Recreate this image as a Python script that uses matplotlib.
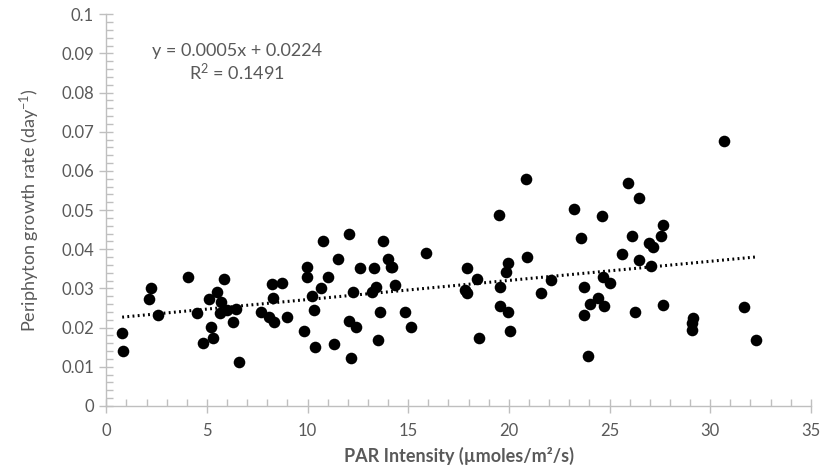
import numpy as np
import matplotlib.pyplot as plt
from matplotlib.ticker import MultipleLocator

# PAR intensity (x) and periphyton growth rate (y)
par = [0.79, 0.84, 2.1, 2.2, 2.57, 4.07, 4.5, 4.8, 5.09, 5.2,
       5.3, 5.51, 5.72, 5.67, 5.85, 5.98, 6.46, 6.27, 6.6, 7.67,
       8.1, 8.24, 8.3, 8.35, 8.74, 8.98, 9.82, 9.97, 9.97, 10.2,
       10.3, 10.37, 10.68, 10.79, 11.0, 11.3, 11.5, 12.07, 12.07, 12.15,
       12.28, 12.4, 12.62, 13.2, 13.28, 13.41, 13.49, 13.62, 13.73, 14.0,
       14.12, 14.2, 14.33, 14.83, 15.12, 15.9, 17.8, 17.93, 17.93, 18.4,
       18.53, 19.5, 19.58, 19.58, 19.84, 19.95, 19.95, 20.08, 20.87, 20.92,
       21.58, 22.07, 23.25, 23.57, 23.73, 23.73, 23.94, 24.04, 24.41, 24.62,
       24.67, 24.75, 25.04, 25.62, 25.93, 26.12, 26.27, 26.46, 26.46, 26.98,
       27.14, 27.04, 27.56, 27.67, 27.64, 29.08, 29.13, 29.11, 30.7, 31.7,
       32.3]
growth = [0.0185, 0.0139, 0.0273, 0.0302, 0.0232, 0.0328, 0.0238, 0.016, 0.0272, 0.0202,
          0.0174, 0.0292, 0.0266, 0.0238, 0.0323, 0.0245, 0.0247, 0.0213, 0.0112, 0.0241,
          0.0226, 0.031, 0.0276, 0.0213, 0.0315, 0.0226, 0.0192, 0.0355, 0.033, 0.0281,
          0.0245, 0.0151, 0.03, 0.0422, 0.0328, 0.0157, 0.0374, 0.044, 0.0218, 0.0122,
          0.0292, 0.0202, 0.0351, 0.0291, 0.0353, 0.0304, 0.0167, 0.0239, 0.0422, 0.0374,
          0.0355, 0.0355, 0.0309, 0.0239, 0.0202, 0.0391, 0.0296, 0.0353, 0.0289, 0.0323,
          0.0174, 0.0487, 0.0304, 0.0255, 0.0343, 0.0364, 0.024, 0.019, 0.0579, 0.0381,
          0.0287, 0.0321, 0.0502, 0.0428, 0.0303, 0.0232, 0.0128, 0.026, 0.0275, 0.0485,
          0.033, 0.0255, 0.0315, 0.0388, 0.057, 0.0434, 0.0239, 0.0532, 0.0372, 0.0417,
          0.0406, 0.0357, 0.0435, 0.0463, 0.0258, 0.0211, 0.0224, 0.0194, 0.0676, 0.0253,
          0.0168]

eq_text = "y = 0.0005x + 0.0224\nR$^2$ = 0.1491"
grey = '#595959'
axis_grey = '#bfbfbf'

plt.rcParams['font.family'] = ['Lato', 'DejaVu Sans']
plt.rcParams['mathtext.fontset'] = 'custom'
plt.rcParams['mathtext.rm'] = 'Lato'
plt.rcParams['mathtext.it'] = 'Lato:italic'
plt.rcParams['mathtext.bf'] = 'Lato:bold'
plt.rcParams['mathtext.default'] = 'regular'

fig = plt.figure(figsize=(8.24, 4.72), dpi=100)
ax = fig.add_axes([0.129, 0.140, 0.855, 0.830])

ax.scatter(par, growth, s=70, color='black', zorder=3, linewidths=0)

# linear trendline
slope, icpt = np.polyfit(par, growth, 1)
xs = np.array([min(par), max(par)])
ax.plot(xs, slope * xs + icpt, color='black', lw=2.2,
        linestyle=(0, (0.6, 1.1)), zorder=2)

ax.text(6.5, 0.0875, eq_text, ha='center', va='center', fontsize=13,
        color=grey, linespacing=1.2)

ax.set_xlim(0, 35)
ax.set_ylim(0, 0.1)
ax.xaxis.set_major_locator(MultipleLocator(5))
ax.xaxis.set_minor_locator(MultipleLocator(1))
ax.yaxis.set_minor_locator(MultipleLocator(0.002))
ax.set_yticks(np.arange(0, 0.1001, 0.01))
ax.set_yticklabels(['0'] + [f'{v:.2f}' for v in np.arange(0.01, 0.095, 0.01)] + ['0.1'])

for side in ['top', 'right']:
    ax.spines[side].set_visible(False)
for side in ['left', 'bottom']:
    ax.spines[side].set_color(axis_grey)
    ax.spines[side].set_linewidth(1)

ax.tick_params(which='major', direction='inout', length=10, width=1,
               color=axis_grey, labelcolor=grey, labelsize=12, pad=4)
ax.tick_params(axis='x', which='major', pad=7)
ax.tick_params(which='minor', direction='in', length=5, width=1, color=axis_grey)

ax.set_xlabel('PAR Intensity (µmoles/m²/s)', fontsize=13, color=grey,
              fontweight='bold', labelpad=6)
ax.set_ylabel('Periphyton growth rate (day$^{-1}$)', fontsize=13, color=grey,
              labelpad=14)

fig.savefig('out.png', dpi=100, facecolor='white')
